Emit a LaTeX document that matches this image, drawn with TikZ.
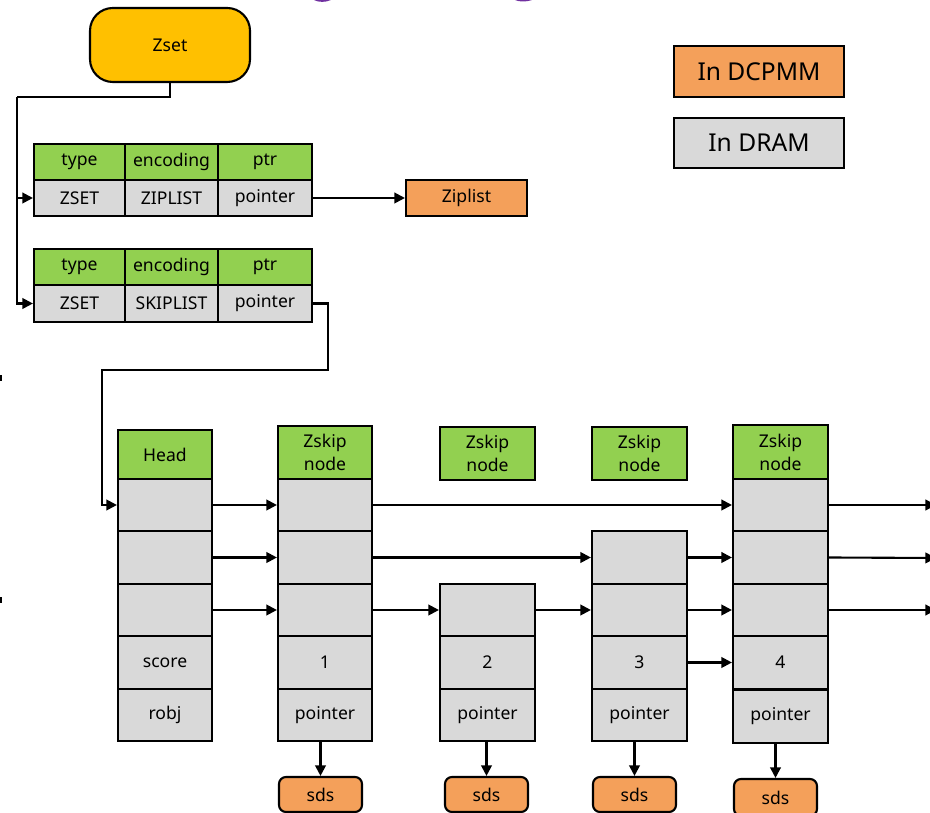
\documentclass[tikz,border=0pt]{standalone}
\usepackage{fontspec}
\setmainfont{Noto Sans}
\usetikzlibrary{arrows.meta}

\definecolor{zsetyellow}{HTML}{FFC000}
\definecolor{hdrgreen}{HTML}{92D050}
\definecolor{dramgray}{HTML}{D9D9D9}
\definecolor{pmemorange}{HTML}{F4A05A}
\definecolor{titlepurple}{HTML}{7030A0}

\tikzset{
  box/.style={draw=black, line width=1.2pt, inner sep=0pt, align=center, font=\fontsize{10}{12}\selectfont},
  hdr/.style={box, fill=hdrgreen},
  cell/.style={box, fill=dramgray},
  pmem/.style={box, fill=pmemorange},
  sdsbox/.style={pmem, rounded corners=4pt},
  legend/.style={box, font=\fontsize{14}{16}\selectfont},
  wire/.style={draw=black, line width=1.2pt},
  arr/.style={wire, -{Triangle[length=6pt,width=6pt]}},
}

% box placed by its corners (pixel grid): style, name, x1, x2, y1, y2, text
\newcommand{\bx}[7]{%
  \node[#1, minimum width={(#4-#3)*0.02cm}, minimum height={(#6-#5)*0.02cm}]
    (#2) at ({(#3+#4)/2},{(#5+#6)/2}) {#7};}

\begin{document}
\begin{tikzpicture}[x=0.02cm, y=-0.02cm]
\useasboundingbox (0,0) rectangle (930,813);

% fragments of the heading above
\fill[titlepurple] (314,0) .. controls (318,2.5) and (326,2.5) .. (331,0) -- cycle;
\fill[titlepurple] (515,0) .. controls (519,2) and (527,2) .. (532,0) -- cycle;
\fill (0,375) rectangle (2,381);
\fill (0,597) rectangle (2,603);

% root object
\node[box, fill=zsetyellow, rounded corners=13pt, minimum width={160*0.02cm},
      minimum height={74*0.02cm}] (zset) at (170,45) {Zset};

% legend
\bx{legend, fill=pmemorange}{lgpm}{674}{844}{46}{97}{In DCPMM}
\bx{legend, fill=dramgray}{lgdram}{674}{844}{118}{168}{In DRAM}

% ziplist-encoded object
\bx{hdr}{t1h1}{34}{125}{144}{180}{type}
\bx{hdr}{t1h2}{125}{218}{144}{180}{encoding}
\bx{hdr}{t1h3}{218}{312}{144}{180}{ptr}
\bx{cell}{t1a}{34}{125}{180}{216}{ZSET}
\bx{cell}{t1b}{125}{218}{180}{216}{ZIPLIST}
\bx{cell}{t1c}{218}{312}{180}{216}{pointer}
\bx{pmem}{ziplist}{406}{527}{180}{216}{Ziplist}

% skiplist-encoded object
\bx{hdr}{t2h1}{34}{125}{249}{285}{type}
\bx{hdr}{t2h2}{125}{218}{249}{285}{encoding}
\bx{hdr}{t2h3}{218}{312}{249}{285}{ptr}
\bx{cell}{t2a}{34}{125}{285}{322}{ZSET}
\bx{cell}{t2b}{125}{218}{285}{322}{SKIPLIST}
\bx{cell}{t2c}{218}{312}{285}{322}{pointer}

% skiplist header
\bx{hdr}{hh}{118}{212}{430}{479}{Head}
\bx{cell}{h1}{118}{212}{479}{531}{}
\bx{cell}{h2}{118}{212}{531}{584}{}
\bx{cell}{h3}{118}{212}{584}{636}{}
\bx{cell}{hs}{118}{212}{636}{689}{score}
\bx{cell}{ho}{118}{212}{689}{741}{robj}

% node 1
\bx{hdr}{n1h}{278}{372}{426}{479}{Zskip\\[1pt]node}
\bx{cell}{n1a}{278}{372}{479}{531}{}
\bx{cell}{n1b}{278}{372}{531}{584}{}
\bx{cell}{n1c}{278}{372}{584}{636}{}
\bx{cell}{n1s}{278}{372}{636}{689}{1}
\bx{cell}{n1p}{278}{372}{689}{741}{pointer}
\bx{sdsbox}{s1}{279}{362}{777}{812}{sds}

% node 2
\bx{hdr}{n2h}{440}{535}{427}{480}{Zskip\\[1pt]node}
\bx{cell}{n2c}{440}{535}{584}{636}{}
\bx{cell}{n2s}{440}{535}{636}{689}{2}
\bx{cell}{n2p}{440}{535}{689}{741}{pointer}
\bx{sdsbox}{s2}{445}{528}{777}{812}{sds}

% node 3
\bx{hdr}{n3h}{592}{687}{427}{480}{Zskip\\[1pt]node}
\bx{cell}{n3b}{592}{687}{531}{584}{}
\bx{cell}{n3c}{592}{687}{584}{636}{}
\bx{cell}{n3s}{592}{687}{636}{689}{3}
\bx{cell}{n3p}{592}{687}{689}{741}{pointer}
\bx{sdsbox}{s3}{593}{676}{777}{812}{sds}

% node 4
\bx{hdr}{n4h}{733}{828}{425}{479}{Zskip\\[1pt]node}
\bx{cell}{n4a}{733}{828}{479}{531}{}
\bx{cell}{n4b}{733}{828}{531}{584}{}
\bx{cell}{n4c}{733}{828}{584}{636}{}
\bx{cell}{n4s}{733}{828}{636}{689}{4}
\bx{cell}{n4p}{733}{828}{690}{743}{pointer}
\bx{sdsbox}{s4}{734}{817}{779}{816}{sds}

% zset -> both encodings
\coordinate (bus) at (17,97);
\draw[wire] (zset.south) |- (bus);
\draw[arr] (bus) |- (t1a.west);
\draw[arr] (bus) |- (t2a.west);
\draw[arr] (t1c.east) -- (ziplist.west);

% skiplist object -> header
\coordinate (k1) at (328,370);
\coordinate (k2) at (102,370);
\draw[arr] (t2c.east) -| (k1) -- (k2) |- (h1.west);

% level 1
\draw[arr] (h1.east) -- (n1a.west);
\draw[arr] (n1a.east) -- (n4a.west);
\coordinate (e1) at (936,505);
\draw[arr] (n4a.east) -- (e1);
% level 2
\draw[arr] (h2.east) -- (n1b.west);
\draw[arr] (n1b.east) -- (n3b.west);
\draw[arr] (n3b.east) -- (n4b.west);
\coordinate (e2) at (936,558);
\draw[arr] (n4b.east) -- (e2);
% level 3
\draw[arr] (h3.east) -- (n1c.west);
\draw[arr] (n1c.east) -- (n2c.west);
\draw[arr] (n2c.east) -- (n3c.west);
\draw[arr] (n3c.east) -- (n4c.west);
\coordinate (e3) at (936,610);
\draw[arr] (n4c.east) -- (e3);
% link between score cells
\draw[arr] (n3s.east) -- (n4s.west);

% member strings
\draw[arr] (n1p.south -| s1.north) -- (s1.north);
\draw[arr] (n2p.south -| s2.north) -- (s2.north);
\draw[arr] (n3p.south -| s3.north) -- (s3.north);
\draw[arr] (n4p.south -| s4.north) -- (s4.north);
\end{tikzpicture}
\end{document}
